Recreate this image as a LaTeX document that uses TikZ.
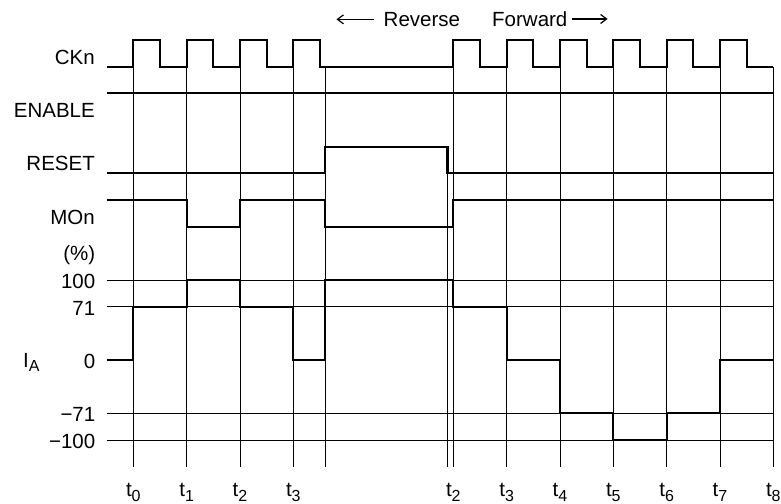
\documentclass[tikz,border=0pt]{standalone}
\usepackage{fontspec}
\setmainfont{Liberation Sans}
\usetikzlibrary{arrows.meta}
\newcommand{\subA}[1]{\raisebox{-4.6pt}{\fontsize{16}{17}\selectfont #1}}
\begin{document}
\begin{tikzpicture}[x=1pt,y=-1pt,
  font=\fontsize{20.5}{24}\selectfont,
  sig/.style={line width=2.2pt,line join=miter},
  grid/.style={line width=1pt},
  lbl/.style={anchor=base east,inner sep=0pt},
  tlbl/.style={anchor=base,inner sep=0pt},
  arr/.style={line width=1.2pt,-{Straight Barb[length=6pt,width=9pt]}}]
\useasboundingbox (0,0) rectangle (781,503);
% grid lines
\foreach \y in {280,306.7,413.3,440}
  \draw[grid] (106.7,\y) -- (773.3,\y);
\foreach \x in {133.3,186.7,240,293.3,325,453.3,506.7,560,613.3,666.7,720,773.3}
  \draw[grid] (\x,66.7) -- (\x,466.7);
\draw[grid] (447.5,173.3) -- (447.5,466.7);
% CKn
\draw[sig] (106.7,66.7)
  \foreach \x in {133.3,186.7,240,293.3,453.3,506.7,560,613.3,666.7,720}
  { -- (\x,66.7) -- (\x,40) -- (\x+26.67,40) -- (\x+26.67,66.7) }
  -- (773.3,66.7);
% ENABLE
\draw[sig] (106.7,93.3) -- (773.3,93.3);
% RESET
\draw[sig] (106.7,173.3) -- (325,173.3) -- (325,146.7) -- (447.5,146.7)
  -- (447.5,173.3) -- (773.3,173.3);
% MOn
\draw[sig] (106.7,200) -- (186.7,200) -- (186.7,226.7) -- (240,226.7)
  -- (240,200) -- (325,200) -- (325,226.7) -- (453.3,226.7)
  -- (453.3,200) -- (773.3,200);
% I_A
\draw[sig] (106.7,360) -- (133.3,360) -- (133.3,306.7) -- (186.7,306.7)
  -- (186.7,280) -- (240,280) -- (240,306.7) -- (293.3,306.7)
  -- (293.3,360) -- (325,360) -- (325,280) -- (453.3,280)
  -- (453.3,306.7) -- (506.7,306.7) -- (506.7,360) -- (560,360)
  -- (560,413.3) -- (613.3,413.3) -- (613.3,440) -- (666.7,440)
  -- (666.7,413.3) -- (720,413.3) -- (720,360) -- (773.3,360);
% signal labels
\node[lbl] (ckn) at (95,64.3) {CKn};
\node[lbl] (en) at (95,117.3) {ENABLE};
\node[lbl] (rst) at (95,170.7) {RESET};
\node[lbl] (mon) at (95,224) {MOn};
\node[lbl] (pct) at (95.5,260) {(\%)};
\node[lbl] (v100) at (95.5,288.5) {100};
\node[lbl] (v71) at (95.5,315.2) {71};
\node[lbl] (v0) at (95.5,368.5) {0};
\node[lbl] (vm71) at (95.5,421.8) {−71};
\node[lbl] (vm100) at (95.5,448.5) {−100};
\node[anchor=base west,inner sep=0pt] (ia) at (23,367.3) {I\subA{A}};
% time labels
\node[tlbl] (lt0) at (133.3,496.5) {t\subA{0}};
\node[tlbl] (lt1) at (186.7,496.5) {t\subA{1}};
\node[tlbl] (lt2) at (240,496.5) {t\subA{2}};
\node[tlbl] (lt3) at (293.3,496.5) {t\subA{3}};
\node[tlbl] (lt2b) at (453.3,496.5) {t\subA{2}};
\node[tlbl] (lt3b) at (506.7,496.5) {t\subA{3}};
\node[tlbl] (lt4) at (560,496.5) {t\subA{4}};
\node[tlbl] (lt5) at (613.3,496.5) {t\subA{5}};
\node[tlbl] (lt6) at (666.7,496.5) {t\subA{6}};
\node[tlbl] (lt7) at (720,496.5) {t\subA{7}};
\node[tlbl] (lt8) at (773.3,496.5) {t\subA{8}};
% direction
\node[anchor=base west,inner sep=0pt] (rev) at (383.5,26.3) {Reverse};
\node[anchor=base west,inner sep=0pt] (fwd) at (492,26.3) {Forward};
\draw[arr] ([xshift=-10pt]rev.west) -- ([xshift=-47pt]rev.west);
\draw[arr] ([xshift=4pt]fwd.east) -- ([xshift=40pt]fwd.east);
\end{tikzpicture}
\end{document}
